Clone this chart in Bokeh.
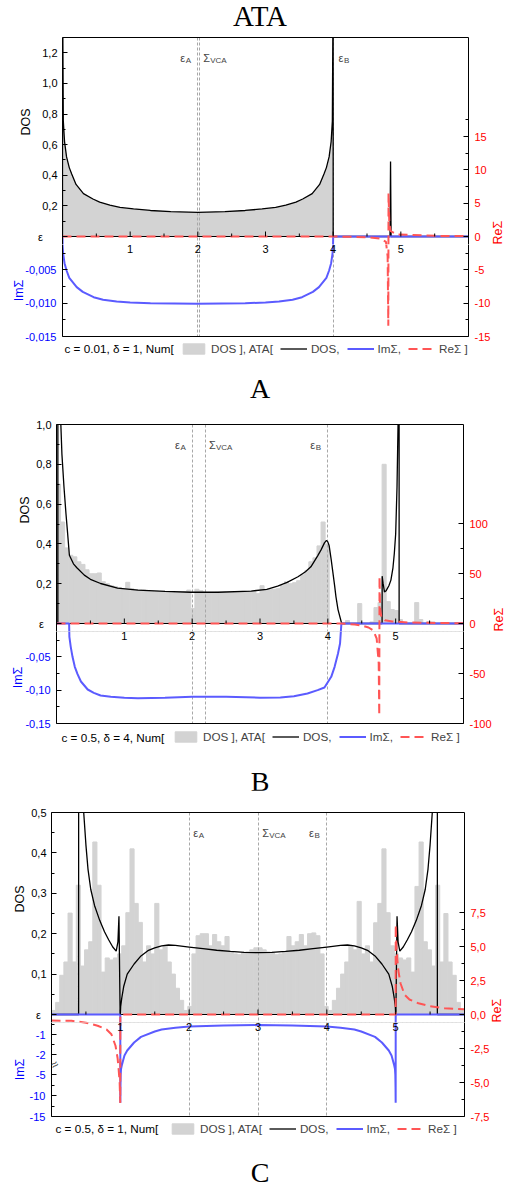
import math
import numpy as np
from bokeh.plotting import figure
from bokeh.layouts import column
from bokeh.models import (Range1d, LinearAxis, FixedTicker, CustomJSTickFormatter,
                          Label, Legend, LegendItem, Title, Div)
from bokeh.embed import file_html
from bokeh.resources import INLINE
from bokeh.core.properties import value

FONT = "Liberation Sans"
SERIF = "Liberation Serif"
C_GRAY = "#d3d3d3"
C_IM = "#5b5bff"
C_RE = "#ff5555"
C_DASH = "#a8a8a8"

# ---------------- shared axis data ----------------
X_TICKS = [1, 2, 3, 4, 5]
X_LABELS = ["1", "2", "3", "4", "5"]
X_MINOR = [0.5, 1.5, 2.5, 3.5, 4.5, 5.5]
BIN_W = 0.06
BIN_X = (np.arange(100) + 0.5) * BIN_W

# ---------------- panel A : c = 0.01, delta = 1 ----------------
A_LEVELS = [2.0, 2.02, 4.0]
A_dos_x = [0.0, 0.0005, 0.004, 0.012, 0.03, 0.06, 0.10, 0.136, 0.20, 0.31, 0.45, 0.55, 0.70, 0.85,
           1.05, 1.30, 1.60, 2.00, 2.40, 2.70, 2.95, 3.15, 3.30, 3.45, 3.55, 3.69, 3.80, 3.864,
           3.90, 3.94, 3.97, 3.988, 3.996, 3.9995, 4.0, 4.84, 4.848, 4.856, 6.0]
A_dos_y = [0.0, 14.0, 1.40, 0.755, 0.62, 0.52, 0.45, 0.408, 0.34, 0.28, 0.245, 0.225, 0.205, 0.19,
           0.18, 0.17, 0.162, 0.158, 0.162, 0.17, 0.18, 0.19, 0.205, 0.225, 0.245, 0.28, 0.34, 0.408,
           0.45, 0.52, 0.62, 0.755, 1.40, 14.0, 0.0, 0.0, 0.49, 0.0, 0.0]
A_num_x = [0.0, 0.0005, 0.004, 0.012, 0.03, 0.06, 0.10, 0.136, 0.20, 0.31, 0.45, 0.55, 0.70, 0.85,
           1.05, 1.30, 1.60, 2.00, 2.40, 2.70, 2.95, 3.15, 3.30, 3.45, 3.55, 3.69, 3.80, 3.864,
           3.90, 3.94, 3.97, 3.988, 3.996, 3.9995, 4.0]
A_num_dos = [0.0, 14.0, 1.40, 0.755, 0.62, 0.52, 0.45, 0.408, 0.34, 0.28, 0.245, 0.225, 0.205, 0.19,
             0.18, 0.17, 0.162, 0.158, 0.162, 0.17, 0.18, 0.19, 0.205, 0.225, 0.245, 0.28, 0.34, 0.408,
             0.45, 0.52, 0.62, 0.755, 1.40, 14.0, 0.0]
A_im_x = [0.0, 0.002, 0.01, 0.03, 0.06, 0.10, 0.21, 0.30, 0.46, 0.60, 0.80, 1.00, 1.30, 2.00, 2.70,
          3.00, 3.20, 3.40, 3.54, 3.70, 3.79, 3.90, 3.94, 3.97, 3.99, 3.998, 4.0, 6.0]
A_im_y = [0.0, -0.0015, -0.0026, -0.0040, -0.0051, -0.0062, -0.0076, -0.0083, -0.0091, -0.0095,
          -0.00976, -0.0099, -0.0100, -0.0101, -0.0100, -0.0099, -0.00976, -0.0095, -0.0091, -0.0083,
          -0.0076, -0.0062, -0.0051, -0.0040, -0.0026, -0.0015, 0.0, 0.0]
A_re_x = [0.0, 4.0, 4.5, 4.70, 4.78, 4.805, 4.815, 4.818, 4.83, 4.85, 4.95, 5.5, 6.0]
A_re_y = [0.0, 0.0, -0.1, -0.3, -0.8, -3.0, -13.4, 6.5, 2.0, 0.8, 0.3, 0.1, 0.05]

# ---------------- panel B : c = 0.5, delta = 4 ----------------
B_LEVELS = [2.0, 2.2, 4.0]
B_hist = [0.70, 0.51, 0.38, 0.343, 0.335, 0.31, 0.297, 0.27, 0.25, 0.25,
          0.254, 0.21, 0.20, 0.19, 0.185, 0.18, 0.175, 0.207, 0.175, 0.17,
          0.17, 0.168, 0.165, 0.163, 0.162, 0.16, 0.16, 0.158, 0.157, 0.157,
          0.158, 0.16, 0.168, 0.075, 0.172, 0.165, 0.157, 0.156, 0.156, 0.157,
          0.157, 0.158, 0.158, 0.159, 0.16, 0.16, 0.161, 0.162, 0.163, 0.15,
          0.19, 0.168, 0.17, 0.172, 0.175, 0.19, 0.21, 0.20, 0.205, 0.215,
          0.245, 0.265, 0.31, 0.33, 0.39, 0.51, 0.40, 0.0, 0.0, 0.0,
          0.0, 0.015, 0.0, 0.0, 0.10, 0.0, 0.0, 0.008, 0.08, 0.105,
          0.80, 0.11, 0.07, 0.065, 0.02, 0.0, 0.0, 0.0, 0.105, 0.02,
          0.0, 0.01, 0.008, 0.0, 0.0, 0.0, 0.0, 0.0, 0.0, 0.0]
B_dos_x = [0.0, 0.02, 0.021, 0.04, 0.064, 0.08, 0.11, 0.14, 0.16, 0.19, 0.25, 0.30, 0.41, 0.50, 0.65,
           0.90, 1.20, 1.60, 1.98, 2.38, 2.87, 3.10, 3.26, 3.40, 3.56, 3.67, 3.75, 3.85, 3.90, 3.95,
           3.98, 4.00, 4.02, 4.05, 4.07, 4.10, 4.12, 4.15, 4.20, 4.21, 4.80, 4.801, 4.815, 4.835,
           4.86, 4.90, 4.93, 4.96, 4.98, 5.00, 5.02, 5.035, 5.045, 5.05, 5.051, 6.0]
B_dos_y = [0.0, 0.0, 5.0, 1.6, 1.0, 0.85, 0.687, 0.55, 0.469, 0.343, 0.30, 0.28, 0.243, 0.222, 0.201,
           0.178, 0.168, 0.161, 0.157, 0.157, 0.163, 0.172, 0.188, 0.207, 0.235, 0.26, 0.285, 0.34,
           0.37, 0.405, 0.418, 0.41, 0.39, 0.32, 0.268, 0.19, 0.134, 0.07, 0.005, 0.0, 0.0, 0.238,
           0.20, 0.159, 0.165, 0.19, 0.218, 0.28, 0.352, 0.45, 0.687, 1.0, 2.0, 6.0, 0.0, 0.0]
B_im_x = [0.0, 0.186, 0.19, 0.21, 0.236, 0.27, 0.31, 0.36, 0.46, 0.55, 0.65, 0.80, 1.00, 1.20, 1.60,
          2.00, 2.20, 2.50, 3.00, 3.30, 3.50, 3.70, 3.85, 3.95, 4.05, 4.10, 4.15, 4.18, 4.20, 6.0]
B_im_y = [0.0, 0.0, -0.02, -0.035, -0.05, -0.065, -0.076, -0.087, -0.099, -0.104, -0.108, -0.110,
          -0.1115, -0.112, -0.1112, -0.110, -0.1098, -0.110, -0.1112, -0.111, -0.109, -0.105, -0.100,
          -0.096, -0.080, -0.065, -0.045, -0.030, 0.0, 0.0]
B_re_x = [0.0, 4.2, 4.3, 4.4, 4.5, 4.6, 4.67, 4.72, 4.75, 4.758, 4.762, 4.77, 4.79, 4.84, 4.95, 5.2,
          5.6, 6.0]
B_re_y = [0.0, 0.0, -0.5, -1.0, -2.0, -4.0, -7.0, -15.0, -40.0, -92.0, 47.0, 15.0, 6.0, 3.3, 2.0,
          1.0, 0.5, 0.3]

# ---------------- panel C : c = 0.5, delta = 1 ----------------
C_LEVELS = [2.0, 3.0, 4.0]
C_hist = [0.01, 0.03, 0.097, 0.13, 0.251, 0.13, 0.32, 0.12, 0.16, 0.18,
          0.427, 0.32, 0.105, 0.14, 0.135, 0.14, 0.15, 0.17, 0.252, 0.41,
          0.275, 0.228, 0.13, 0.17, 0.15, 0.275, 0.16, 0.17, 0.13, 0.10,
          0.065, 0.035, 0.01, 0.02, 0.15, 0.195, 0.20, 0.20, 0.17, 0.198,
          0.18, 0.17, 0.193, 0.155, 0.15, 0.148, 0.152, 0.155, 0.16, 0.165,
          0.165, 0.16, 0.155, 0.152, 0.148, 0.15, 0.155, 0.193, 0.17, 0.18,
          0.198, 0.17, 0.20, 0.202, 0.195, 0.15, 0.02, 0.01, 0.035, 0.065,
          0.10, 0.13, 0.17, 0.16, 0.28, 0.15, 0.17, 0.13, 0.227, 0.275,
          0.41, 0.252, 0.17, 0.15, 0.14, 0.135, 0.14, 0.105, 0.317, 0.427,
          0.18, 0.16, 0.12, 0.32, 0.13, 0.25, 0.13, 0.097, 0.03, 0.01]
C_dos_x = [0.0, 0.394, 0.395, 0.41, 0.43, 0.46, 0.50, 0.53, 0.57, 0.625, 0.70, 0.77, 0.83, 0.89, 0.94,
           0.965, 0.98, 0.997,
           1.0, 1.005, 1.02, 1.05, 1.10, 1.20, 1.30, 1.40, 1.50, 1.60, 1.70, 1.80, 2.00, 2.20, 2.40,
           2.60, 2.80, 3.00,
           3.20, 3.40, 3.60, 3.80, 4.00, 4.20, 4.30, 4.40, 4.50, 4.60, 4.70, 4.80, 4.90, 4.95, 4.98,
           4.995, 5.0,
           5.003, 5.02, 5.035, 5.06, 5.11, 5.17, 5.23, 5.30, 5.375, 5.43, 5.47, 5.50, 5.54, 5.57,
           5.59, 5.605, 5.606, 6.0]
C_dos_y = [0.0, 0.0, 3.0, 1.1, 0.75, 0.52, 0.42, 0.36, 0.31, 0.27, 0.233, 0.205, 0.185, 0.167, 0.157,
           0.18, 0.243, 0.0,
           0.0, 0.02, 0.04, 0.07, 0.10, 0.125, 0.145, 0.158, 0.165, 0.17, 0.172, 0.171, 0.167, 0.163,
           0.159, 0.156, 0.154, 0.153,
           0.154, 0.156, 0.159, 0.163, 0.167, 0.171, 0.172, 0.17, 0.165, 0.158, 0.145, 0.125, 0.10,
           0.07, 0.04, 0.02, 0.0,
           0.0, 0.243, 0.18, 0.157, 0.167, 0.185, 0.205, 0.233, 0.27, 0.31, 0.36, 0.42, 0.52, 0.75,
           1.1, 3.0, 0.0, 0.0]
C_im_x = [0.0, 0.9995, 1.0, 1.002, 1.005, 1.01, 1.02, 1.04, 1.06, 1.10, 1.20, 1.30, 1.50, 1.60, 1.80,
          2.00, 2.50, 3.00, 3.50, 4.00, 4.20, 4.40, 4.50, 4.70, 4.80, 4.90, 4.94, 4.96, 4.98, 4.99,
          4.995, 4.998, 5.0, 5.0005, 6.0]
C_im_y = [0.0, 0.0, -11.7, -8.0, -5.0, -3.6, -2.8, -2.3, -2.05, -1.8, -1.4, -1.12, -0.85, -0.75, -0.66,
          -0.60, -0.55, -0.53, -0.55, -0.60, -0.66, -0.75, -0.85, -1.12, -1.4, -1.8, -2.05, -2.3, -2.8,
          -3.6, -5.0, -8.0, -11.7, 0.0, 0.0]
C_re_x = [0.0, 0.29, 0.50, 0.67, 0.80, 0.87, 0.93, 0.96, 0.975, 0.99, 0.999, 1.0, 5.0, 5.001, 5.01,
          5.025, 5.04, 5.07, 5.13, 5.20, 5.33, 5.50, 5.71, 6.0]
C_re_y = [-0.45, -0.46, -0.60, -0.83, -1.10, -1.45, -2.30, -3.20, -4.0, -5.0, -6.5, 0.0, 0.0, 6.6, 5.0,
          4.0, 3.2, 2.3, 1.45, 1.1, 0.83, 0.6, 0.46, 0.39]

for a, b in [(A_dos_x, A_dos_y), (A_num_x, A_num_dos), (A_im_x, A_im_y), (A_re_x, A_re_y),
             (B_dos_x, B_dos_y), (B_im_x, B_im_y), (B_re_x, B_re_y),
             (C_dos_x, C_dos_y), (C_im_x, C_im_y), (C_re_x, C_re_y), (BIN_X, B_hist), (BIN_X, C_hist)]:
    assert len(a) == len(b), (len(a), len(b))

# broken ImSigma axis in panel C: linear down to -2.5, compressed below
C_BREAK = -2.5
C_BREAK_FACTOR = 0.208
SEAM = 8        # px below the zero line where the upper and lower halves of a panel meet
LOW_BORDER = 6  # px under the lower frame
LEG_H = 22      # height of the legend strip


def ident(v):
    return float(v)


def c_break(v):
    v = float(v)
    return v if v >= C_BREAK else C_BREAK + (v - C_BREAK) * C_BREAK_FACTOR


def fmt_fixed(d):
    return "return tick.toFixed(%d).replace('.', ',');" % d


C_LOWER_FMT = ("var v = tick >= %g ? tick : %g + (tick - %g) / %g; return Math.round(v).toString();"
               % (C_BREAK, C_BREAK, C_BREAK, C_BREAK_FACTOR))


def style_axis(ax, color, standoff):
    ax.major_tick_in = 5
    ax.major_tick_out = 0
    ax.minor_tick_in = 3
    ax.minor_tick_out = 0
    ax.axis_line_color = "black"
    ax.major_tick_line_color = "black"
    ax.minor_tick_line_color = "black"
    ax.major_label_text_font = FONT
    ax.major_label_text_font_size = "11px"
    ax.major_label_text_color = color
    ax.major_label_standoff = standoff


def border_axis():
    return LinearAxis(ticker=FixedTicker(ticks=[]), axis_line_color="black",
                      major_tick_in=0, major_tick_out=0, minor_tick_in=0, minor_tick_out=0,
                      major_label_standoff=0, major_label_text_font_size="0px")


def draw_series(p, cfg, imap):
    if cfg.get("hist") is not None:
        p.vbar(x=BIN_X, top=cfg["hist"], width=BIN_W, bottom=0,
               fill_color=C_GRAY, line_color=C_GRAY, line_width=1)
    else:
        p.varea(x=cfg["num_x"], y1=0, y2=cfg["num_y"], fill_color=C_GRAY)
    p.vspan(x=cfg["levels"], line_color=C_DASH, line_dash="3 2", line_width=1)
    p.hspan(y=[0], line_color="black", line_width=1)
    p.line(cfg["dos_x"], cfg["dos_y"], line_color="black", line_width=1.3)
    p.line(cfg["im_x"], [imap(v) for v in cfg["im_y"]], y_range_name="im",
           line_color=C_IM, line_width=2)
    p.line(cfg["re_x"], cfg["re_y"], y_range_name="re",
           line_color=C_RE, line_width=2, line_dash="9 5")


def base_fig(h, L, R, tb, bb, xr, yr):
    p = figure(width=520, height=h, x_range=xr, y_range=yr,
               output_backend="svg", toolbar_location=None,
               x_axis_location=None, y_axis_location=None,
               min_border_left=L, min_border_right=520 - R,
               min_border_top=tb, min_border_bottom=bb)
    p.grid.visible = False
    p.outline_line_alpha = 0
    p.background_fill_color = "white"
    p.border_fill_color = "white"
    return p


def build(cfg):
    L, R, up, lo, s = cfg["L"], cfg["R"], cfg["up"], cfg["lo"], SEAM
    imap = cfg["im_map"]
    dtop = cfg["dos_top"]
    ibot = imap(cfg["im_bot"])
    rbot = cfg["re_bot"]
    kd, ki, kr = up / dtop, lo / abs(ibot), lo / abs(rbot)

    def rng(k, a, b):
        return Range1d(-b / k, a / k)

    # ---------- upper half: DOS ----------
    tb = cfg["top_border"]
    pu = base_fig(tb + up + s, L, R, tb, 0, Range1d(0, 6), rng(kd, up, s))
    pu.extra_y_ranges = {"im": rng(ki, up, s), "re": rng(kr, up, s)}
    draw_series(pu, cfg, imap)
    lax = LinearAxis(ticker=FixedTicker(ticks=[0.0] + cfg["dos_ticks"], minor_ticks=cfg["dos_minor"]),
                     formatter=CustomJSTickFormatter(
                         code="if (Math.abs(tick) < 1e-9) return 'ε%s';"
                              "return tick.toFixed(1).replace('.', ',');" % cfg["eps_pad"]))
    style_axis(lax, "black", 5)
    rax = LinearAxis(y_range_name="re",
                     ticker=FixedTicker(ticks=[t for t in cfg["re_ticks"] if t >= 0],
                                        minor_ticks=[t for t in cfg["re_minor"] if t > 0]),
                     formatter=CustomJSTickFormatter(code=fmt_fixed(cfg["re_digits"])))
    style_axis(rax, "#ff0000", 6)
    rax.axis_label = "ReΣ"
    rax.axis_label_text_color = "#ff0000"
    rax.axis_label_text_font = FONT
    rax.axis_label_text_font_size = "12.5px"
    rax.axis_label_text_font_style = "normal"
    rax.axis_label_standoff = 8
    rax.axis_label_orientation = math.pi / 2
    try:
        rax.axis_label_align = "start"
    except Exception:
        pass
    pu.add_layout(lax, "left")
    pu.add_layout(rax, "right")
    pu.add_layout(border_axis(), "above")
    pu.add_layout(Title(text="DOS", align="left", offset=cfg["dos_off"], standoff=4,
                        text_font=FONT, text_font_size="12.5px", text_font_style="normal",
                        text_color="black"), "left")
    pu.ray(x=X_TICKS, y=0, length=5, length_units="screen", angle=90, angle_units="deg",
           line_color="black", line_width=1)
    pu.ray(x=X_MINOR, y=0, length=3, length_units="screen", angle=90, angle_units="deg",
           line_color="black", line_width=1)
    for x, main, sub in cfg["lvl_labels"]:
        pu.add_layout(Label(x=x, y=0, y_offset=cfg["lvl_dy"], text=main, text_align="left",
                            text_baseline="alphabetic", text_font=FONT, text_font_size="11px"))
        pu.add_layout(Label(x=x, y=0, x_offset=(7 if main == "Σ" else 5.5),
                            y_offset=cfg["lvl_dy"] - 3, text=sub, text_align="left",
                            text_baseline="alphabetic", text_font=FONT, text_font_size="8px"))

    # ---------- lower half: ImSigma ----------
    pl = base_fig(lo - s + LOW_BORDER, L, R, 0, LOW_BORDER, Range1d(0, 6), rng(kd, -s, lo))
    pl.extra_y_ranges = {"im": rng(ki, -s, lo), "re": rng(kr, -s, lo)}
    draw_series(pl, cfg, imap)
    code = C_LOWER_FMT if cfg.get("break_mark") else fmt_fixed(cfg["im_digits"])
    lax2 = LinearAxis(y_range_name="im",
                      ticker=FixedTicker(ticks=[imap(v) for v in cfg["im_ticks"]],
                                         minor_ticks=[imap(v) for v in cfg["im_minor"]]),
                      formatter=CustomJSTickFormatter(code=code))
    style_axis(lax2, "#0000ff", 6)
    lax2.axis_label = "ImΣ"
    lax2.axis_label_text_color = "#0000ff"
    lax2.axis_label_text_font = FONT
    lax2.axis_label_text_font_size = "12.5px"
    lax2.axis_label_text_font_style = "normal"
    lax2.axis_label_standoff = cfg["im_standoff"]
    rax2 = LinearAxis(y_range_name="re",
                      ticker=FixedTicker(ticks=[t for t in cfg["re_ticks"] if t < 0],
                                         minor_ticks=[t for t in cfg["re_minor"] if t < 0]),
                      formatter=CustomJSTickFormatter(code=fmt_fixed(cfg["re_digits"])))
    style_axis(rax2, "#ff0000", 6)
    pl.add_layout(lax2, "left")
    pl.add_layout(rax2, "right")
    pl.add_layout(border_axis(), "below")
    ytop = -s / kd * (1 + 1e-6)
    pl.text(x=X_TICKS, y=[ytop] * len(X_TICKS), text=X_LABELS, text_align="center",
            text_baseline="top", text_font=value(FONT), text_font_size="11px", text_color="black")
    if cfg.get("break_mark"):
        pl.add_layout(Label(x=0, y=imap(C_BREAK), y_range_name="im", x_offset=3, text="≈",
                            angle=0.6, text_align="center", text_baseline="middle",
                            text_font=FONT, text_font_size="13px"))

    # ---------- legend strip (same frame as the panel, x in page pixels) ----------
    pg = base_fig(LEG_H, L, R, 0, 0, Range1d(L, R), Range1d(0, LEG_H))
    tx, ty = cfg["leg_text_pos"]
    pg.text(x=[tx], y=[ty], text=[cfg["leg_text"]], text_align="left", text_baseline="middle",
            text_font=value(FONT), text_font_size="11.7px", text_color="black")
    hr = pg.vbar(x=[-50], top=[-50], bottom=[-60], width=5, fill_color=C_GRAY, line_color=C_GRAY)
    dl = pg.line(x=[-60, -50], y=[-50, -50], line_color="black", line_width=1.3)
    il = pg.line(x=[-60, -50], y=[-50, -50], line_color=C_IM, line_width=2)
    rl = pg.line(x=[-60, -50], y=[-50, -50], line_color=C_RE, line_width=2, line_dash="9 5")
    items = [LegendItem(label="DOS ], ATA[", renderers=[hr]),
             LegendItem(label="DOS,", renderers=[dl]),
             LegendItem(label="ImΣ,", renderers=[il]),
             LegendItem(label="ReΣ ]", renderers=[rl])]
    lx, ly = cfg["leg_loc"]
    leg = Legend(items=items, location=(lx - L, ly), orientation="horizontal",
                 glyph_width=27, glyph_height=13, label_standoff=4, spacing=7,
                 padding=0, margin=0, border_line_alpha=0, background_fill_alpha=0,
                 label_text_font=FONT, label_text_font_size="11.7px", label_height=13,
                 label_text_baseline="middle")
    pg.add_layout(leg)
    return column(pu, pl, pg, spacing=0)


def caption(text, h, size, lh, pt):
    html = ('<div style="width:520px;text-align:center;font-family:\'%s\';font-size:%dpx;'
            'line-height:%dpx;padding-top:%dpx;color:black;">%s</div>' % (SERIF, size, lh, pt, text))
    return Div(text=html, width=520, height=h, margin=0)


cfgA = dict(L=62, R=468, up=199, lo=100, top_border=6, im_map=ident,
            dos_top=1.3, im_bot=-0.015, re_bot=-15,
            dos_ticks=[0.2, 0.4, 0.6, 0.8, 1.0, 1.2], dos_minor=[0.1, 0.3, 0.5, 0.7, 0.9, 1.1],
            im_ticks=[-0.005, -0.010, -0.015], im_minor=[-0.0025, -0.0075, -0.0125], im_digits=3,
            re_ticks=[-15, -10, -5, 0, 5, 10, 15],
            re_minor=[-12.5, -7.5, -2.5, 2.5, 7.5, 12.5, 17.5], re_digits=0,
            num_x=A_num_x, num_y=A_num_dos, levels=A_LEVELS,
            dos_x=A_dos_x, dos_y=A_dos_y, im_x=A_im_x, im_y=A_im_y, re_x=A_re_x, re_y=A_re_y,
            eps_pad="\u2003\u2004", dos_off=109, im_standoff=-4,
            lvl_labels=[(1.74, "ε", "A"), (2.08, "Σ", "VCA"), (4.08, "ε", "B")], lvl_dy=179,
            leg_text="c = 0.01, δ = 1, Num[", leg_text_pos=(64, 16), leg_loc=(180, 9.5))

cfgB = dict(L=56, R=463, up=199, lo=100, top_border=24, im_map=ident,
            dos_top=1.0, im_bot=-0.15, re_bot=-100,
            dos_ticks=[0.2, 0.4, 0.6, 0.8, 1.0], dos_minor=[0.1, 0.3, 0.5, 0.7, 0.9],
            im_ticks=[-0.05, -0.10, -0.15], im_minor=[-0.025, -0.075, -0.125], im_digits=2,
            re_ticks=[-100, -50, 0, 50, 100], re_minor=[-75, -25, 25, 75], re_digits=0,
            hist=B_hist, levels=B_LEVELS,
            dos_x=B_dos_x, dos_y=B_dos_y, im_x=B_im_x, im_y=B_im_y, re_x=B_re_x, re_y=B_re_y,
            eps_pad="\u2002\u2009", dos_off=108, im_standoff=-3,
            lvl_labels=[(1.746, "ε", "A"), (2.248, "Σ", "VCA"), (3.74, "ε", "B")], lvl_dy=179,
            leg_text="c = 0.5, δ = 4, Num[", leg_text_pos=(61, 14.3), leg_loc=(172, 7.8))

cfgC = dict(L=51, R=464, up=202, lo=102, top_border=22, im_map=c_break,
            dos_top=0.5, im_bot=-15, re_bot=-7.5,
            dos_ticks=[0.1, 0.2, 0.3, 0.4, 0.5], dos_minor=[0.05, 0.15, 0.25, 0.35, 0.45],
            im_ticks=[-1, -2, -5, -10, -15], im_minor=[-0.5, -1.5, -7.5, -12.5], im_digits=0,
            re_ticks=[-7.5, -5, -2.5, 0, 2.5, 5, 7.5],
            re_minor=[-6.25, -3.75, -1.25, 1.25, 3.75, 6.25], re_digits=1,
            hist=C_hist, levels=C_LEVELS,
            dos_x=C_dos_x, dos_y=C_dos_y, im_x=C_im_x, im_y=C_im_y, re_x=C_re_x, re_y=C_re_y,
            eps_pad="\u2002", dos_off=110, im_standoff=0, break_mark=True,
            lvl_labels=[(2.06, "ε", "A"), (3.06, "Σ", "VCA"), (3.74, "ε", "B")], lvl_dy=182,
            leg_text="c = 0.5, δ = 1, Num[", leg_text_pos=(55, 16), leg_loc=(169, 9.5))

panelA = build(cfgA)
panelB = build(cfgB)
panelC = build(cfgC)

layout = column(caption("ATA", 31, 29, 27, 3), panelA, caption("A", 36, 28, 22, 14),
                panelB, caption("B", 39, 28, 16, 23),
                panelC, caption("C", 45, 28, 22, 18), spacing=0)
open("out.html", "w").write(file_html(layout, INLINE, title="ATA"))
